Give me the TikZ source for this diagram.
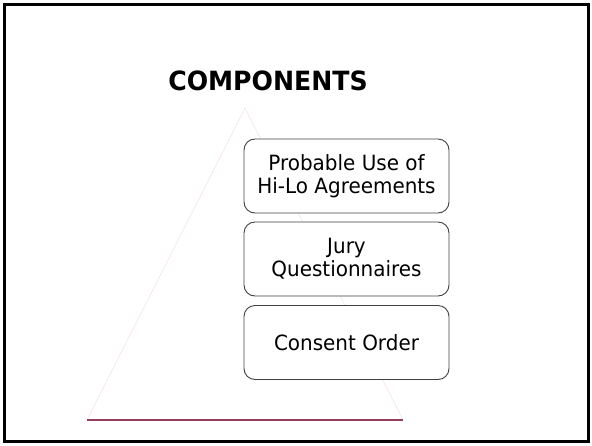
\documentclass[tikz,border=0pt]{standalone}
\usepackage{fontspec}
\setmainfont{DejaVu Sans}[FakeStretch=0.95]
\begin{document}
\begin{tikzpicture}[x=1pt,y=-1pt,
  frameline/.style={line width=3pt,draw=black},
  pyramidside/.style={draw={rgb,255:red,244;green,226;blue,231},line width=0.6pt},
  pyramidbase/.style={draw={rgb,255:red,150;green,62;blue,94},line width=2pt},
  itembox/.style={draw=black!75,line width=0.9pt,fill=white,rounded corners=11pt,
    minimum width=205pt,minimum height=74pt,inner sep=0pt,align=center,
    font=\fontsize{21}{23}\selectfont},
  heading/.style={font=\fontsize{26.5}{30}\bfseries\selectfont,anchor=base,inner sep=0pt}]
\useasboundingbox (0,0) rectangle (592,445);
% slide frame
\draw[frameline] (4.5,4.5) rectangle (588,441.5);
% heading
\node[heading] (title) at (268,90) {COMPONENTS};
% pyramid outline
\coordinate (apex) at (245,108);
\coordinate (bl) at (87,420);
\coordinate (br) at (403,420);
\draw[pyramidside] (bl) -- (apex) -- (br);
\draw[pyramidbase] (bl) -- (br);
% stacked components
\node[itembox] (hilo) at (346.5,176) {Probable Use of\\Hi-Lo Agreements};
\node[itembox] (jury) at (346.5,259) {Jury\\Questionnaires};
\node[itembox] (consent) at (346.5,342.5) {Consent Order};
\end{tikzpicture}
\end{document}
